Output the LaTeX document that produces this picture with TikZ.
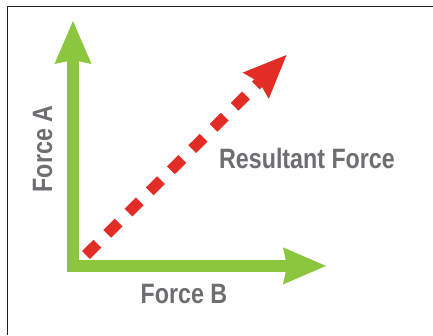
\documentclass[tikz,border=0pt]{standalone}
\usepackage{fontspec}
\newfontfamily\lblfont[FakeStretch=0.83]{Liberation Sans}
\usetikzlibrary{arrows.meta}
\definecolor{fgreen}{HTML}{8CC63F}
\definecolor{fred}{HTML}{E22D26}
\definecolor{fgray}{HTML}{6D6E71}
\definecolor{frame}{HTML}{231F20}
\tikzset{
  greenvec/.style={draw=fgreen, line width=12.6pt, line join=miter,
    {Stealth[length=43pt,width=37pt,inset=4pt,line width=0pt,fill=fgreen]}-{Stealth[length=43pt,width=37pt,inset=4pt,line width=0pt,fill=fgreen]}},
  redvec/.style={draw=fred, line width=11pt, dash pattern=on 16pt off 14pt,
    -{Stealth[length=43.5pt,width=37pt,inset=5pt,line width=0pt,fill=fred]}},
  lbl/.style={text=fgray, font=\lblfont\bfseries\fontsize{28}{28}\selectfont, inner sep=0pt, anchor=base}
}
\begin{document}
\begin{tikzpicture}[x=1pt,y=-1pt]
\useasboundingbox (0,0) rectangle (433,335);
\fill[white] (0,0) rectangle (433,335);
\draw[frame, line width=1.2pt] (7.3,335) -- (7.3,6.5) -- (433,6.5);
\coordinate (tipA) at (73,21);
\coordinate (origin) at (73,265.9);
\coordinate (tipB) at (326,265.9);
\coordinate (rstart) at (86,255);
\coordinate (tipR) at (286.5,55);
\draw[greenvec] (tipA) -- (origin) -- (tipB);
\draw[redvec] (rstart) -- (tipR);
\node[lbl, rotate=90] (fa) at (52,149) {Force A};
\node[lbl] (fb) at (184,303.3) {Force B};
\node[lbl] (fr) at (307,168.3) {Resultant Force};
\end{tikzpicture}
\end{document}
